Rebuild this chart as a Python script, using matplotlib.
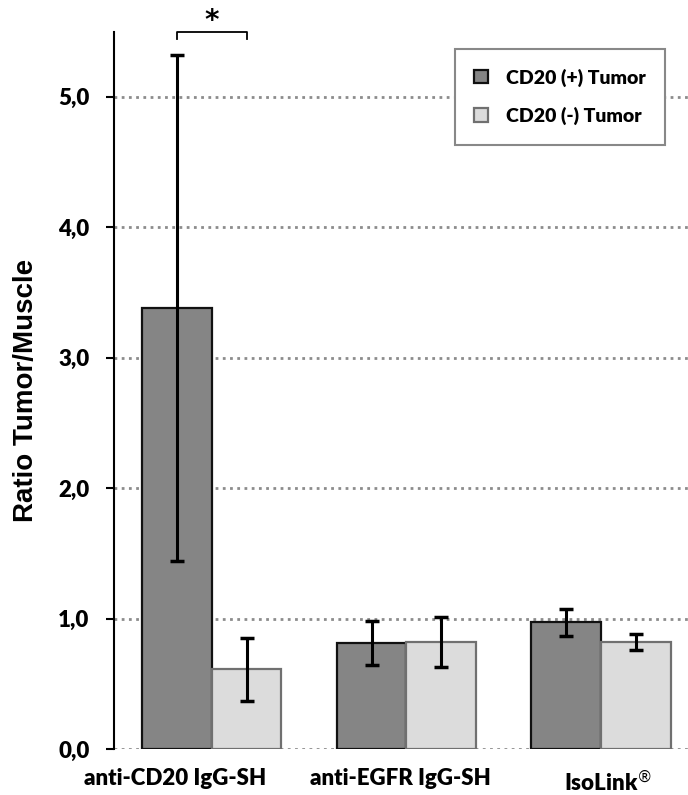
import numpy as np
import matplotlib
matplotlib.use("Agg")
import matplotlib.pyplot as plt

# Data
groups = ["anti-CD20 IgG-SH", "anti-EGFR IgG-SH", "IsoLink$^{®}$"]
series = ["CD20 (+) Tumor", "CD20 (-) Tumor"]
pos_mean = [3.38, 0.81, 0.97]
pos_lo = [1.44, 0.64, 0.87]
pos_hi = [5.32, 0.98, 1.07]
neg_mean = [0.61, 0.82, 0.82]
neg_lo = [0.37, 0.63, 0.76]
neg_hi = [0.85, 1.01, 0.88]
yticks = [0.0, 1.0, 2.0, 3.0, 4.0, 5.0]
ytick_labels = ["0,0", "1,0", "2,0", "3,0", "4,0", "5,0"]

# small horizontal shifts of the group labels, as in the original
label_shift = [-0.19, -0.03, 0.035]

tick_font = "Lato"
width = 0.358

fig = plt.figure(figsize=(6.88, 7.95), dpi=100)
ax = fig.add_axes([0.1657, 0.0579, 0.8343, 0.9023])

x = np.arange(len(groups))
pos_err = [np.array(pos_mean) - np.array(pos_lo), np.array(pos_hi) - np.array(pos_mean)]
neg_err = [np.array(neg_mean) - np.array(neg_lo), np.array(neg_hi) - np.array(neg_mean)]

# gridlines first, behind the bars
for yv in yticks:
    ax.axhline(yv, color="#8c8c8c", linestyle=(0, (1, 1.6)), linewidth=2.0, zorder=0)

ax.bar(x - width / 2, pos_mean, width, color="#858585", edgecolor="#111111",
       linewidth=1.6, label=series[0], zorder=2)
ax.bar(x + width / 2, neg_mean, width, color="#dcdcdc", edgecolor="#707070",
       linewidth=1.6, label=series[1], zorder=2)
ax.errorbar(x - width / 2, pos_mean, yerr=pos_err, fmt="none", ecolor="black",
            elinewidth=2.2, capsize=5, capthick=2.5, zorder=3)
ax.errorbar(x + width / 2, neg_mean, yerr=neg_err, fmt="none", ecolor="black",
            elinewidth=2.2, capsize=5, capthick=2.5, zorder=3)

ax.set_xlim(-0.502, 2.447)
ax.set_ylim(0, 5.5)

ax.set_yticks(yticks)
ax.set_yticklabels(ytick_labels, fontfamily=tick_font, fontweight="heavy", fontsize=16)
ax.tick_params(axis="y", length=5.5, width=1.5, pad=12)

ax.set_xticks(x + np.array(label_shift))
ax.set_xticklabels(groups, fontfamily=tick_font, fontweight="heavy", fontsize=16)
ax.tick_params(axis="x", length=0, pad=14)

for side in ["top", "right", "bottom"]:
    ax.spines[side].set_visible(False)
ax.spines["left"].set_linewidth(1.5)

ax.set_ylabel("Ratio Tumor/Muscle", fontfamily="Liberation Sans", fontweight="bold",
              fontsize=20, labelpad=14)

# significance bracket between the two anti-CD20 bars
bx0 = x[0] - width / 2
bx1 = x[0] + width / 2
ax.plot([bx0, bx0, bx1, bx1], [5.44, 5.5, 5.5, 5.44], color="black", linewidth=1.3,
        clip_on=False, zorder=4)
ax.text(x[0], 5.58, "*", ha="center", va="center", fontsize=20, fontweight="bold",
        fontfamily="DejaVu Sans", clip_on=False)

leg = ax.legend(loc="upper left", bbox_to_anchor=(0.594, 0.976), fancybox=False,
                prop={"family": tick_font, "weight": "heavy", "size": 14},
                handlelength=0.7, handleheight=0.7, handletextpad=0.9,
                labelspacing=1.05, borderpad=1.0, borderaxespad=0, framealpha=1)
leg.get_frame().set_edgecolor("#888888")
leg.get_frame().set_linewidth(1.5)

fig.savefig("out.png", dpi=100)
